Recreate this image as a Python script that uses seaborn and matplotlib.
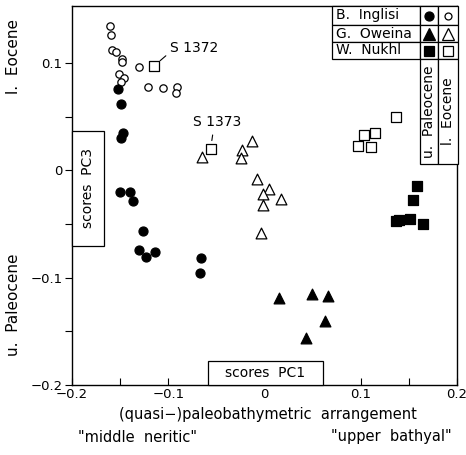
import numpy as np
import pandas as pd
import matplotlib
matplotlib.use("Agg")
import matplotlib.pyplot as plt
from matplotlib.patches import Rectangle
from matplotlib.lines import Line2D
import seaborn as sns

sns.set_theme(style="white")
plt.rcParams["font.family"] = ["DejaVu Sans"]
plt.rcParams["text.color"] = "black"

# PC1 / PC3 scores per sample
inglisi_eoc_x = [-0.161, -0.160, -0.158, -0.154, -0.148, -0.148, -0.151, -0.146, -0.149,
                 -0.130, -0.121, -0.105, -0.091, -0.092]
inglisi_eoc_y = [0.134, 0.126, 0.112, 0.110, 0.104, 0.101, 0.090, 0.086, 0.082,
                 0.096, 0.078, 0.077, 0.078, 0.072]
inglisi_pal_x = [-0.152, -0.149, -0.147, -0.149, -0.150, -0.140, -0.137, -0.126, -0.130,
                 -0.123, -0.114, -0.066, -0.067]
inglisi_pal_y = [0.076, 0.062, 0.035, 0.030, -0.020, -0.020, -0.029, -0.057, -0.074,
                 -0.081, -0.076, -0.082, -0.096]
oweina_eoc_x = [-0.065, -0.013, -0.023, -0.024, -0.008, 0.0045, 0.017, -0.002, -0.002, -0.004]
oweina_eoc_y = [0.012, 0.027, 0.019, 0.011, -0.008, -0.017, -0.027, -0.022, -0.032, -0.058]
oweina_pal_x = [0.015, 0.049, 0.066, 0.063, 0.043]
oweina_pal_y = [-0.119, -0.115, -0.117, -0.140, -0.156]
nukhl_eoc_x = [-0.115, -0.056, 0.137, 0.115, 0.103, 0.097, 0.111]
nukhl_eoc_y = [0.097, 0.020, 0.050, 0.035, 0.033, 0.023, 0.022]
nukhl_pal_x = [0.158, 0.154, 0.140, 0.151, 0.165, 0.137]
nukhl_pal_y = [-0.015, -0.028, -0.046, -0.045, -0.050, -0.047]

sites = ["B. Inglisi", "G. Oweina", "W. Nukhl"]
ages = ["u. Paleocene", "l. Eocene"]
labelled = {"S 1372": (-0.115, 0.097), "S 1373": (-0.056, 0.020)}

frames = []
for site, (px, py, ex, ey) in zip(sites, [
        (inglisi_pal_x, inglisi_pal_y, inglisi_eoc_x, inglisi_eoc_y),
        (oweina_pal_x, oweina_pal_y, oweina_eoc_x, oweina_eoc_y),
        (nukhl_pal_x, nukhl_pal_y, nukhl_eoc_x, nukhl_eoc_y)]):
    frames.append(pd.DataFrame({"PC1": px, "PC3": py, "site": site, "age": ages[0]}))
    frames.append(pd.DataFrame({"PC1": ex, "PC3": ey, "site": site, "age": ages[1]}))
df = pd.concat(frames, ignore_index=True)

W, H = 466, 455
fig = plt.figure(figsize=(W / 100, H / 100), dpi=100)
ax = fig.add_axes([72 / W, 1 - 385 / H, (457 - 72) / W, (385 - 6) / H])

markers = {"B. Inglisi": "o", "G. Oweina": "^", "W. Nukhl": "s"}
sizes = {("B. Inglisi", ages[0]): 42, ("B. Inglisi", ages[1]): 28,
         ("G. Oweina", ages[0]): 60, ("G. Oweina", ages[1]): 60,
         ("W. Nukhl", ages[0]): 46, ("W. Nukhl", ages[1]): 44}

for (site, age), sub in df.groupby(["site", "age"]):
    filled = age == ages[0]
    sns.scatterplot(data=sub, x="PC1", y="PC3", ax=ax, marker=markers[site],
                    s=sizes[(site, age)], color="black" if filled else "white",
                    edgecolor="black", linewidth=0.9, legend=False, zorder=3)

ax.set_xlim(-0.2, 0.2)
ax.set_ylim(-0.2, 0.153)
ax.set_xticks([-0.2, -0.1, 0, 0.1, 0.2])
ax.set_xticklabels(["\u22120.2", "\u22120.1", "0", "0.1", "0.2"])
ax.set_yticks([-0.2, -0.1, 0, 0.1])
ax.set_yticklabels(["\u22120.2", "\u22120.1", "0", "0.1"])
ax.set_xticks([-0.15, -0.05, 0.05, 0.15], minor=True)
ax.set_yticks([-0.15, -0.05, 0.05], minor=True)
ax.tick_params(axis="x", which="both", direction="in", length=5, width=0.8,
               bottom=True, labelsize=9.5, pad=2, colors="black")
ax.tick_params(axis="y", which="both", direction="out", length=5, width=0.8,
               left=True, labelsize=9.5, pad=2, colors="black")
ax.set_xlabel("")
ax.set_ylabel("")
for sp in ax.spines.values():
    sp.set_color("black")
    sp.set_linewidth(1.0)

# sample annotations
ax.annotate("S 1372", xy=labelled["S 1372"], xytext=(-0.098, 0.114),
            ha="left", va="center", fontsize=10,
            arrowprops=dict(arrowstyle="-", lw=0.8, color="black",
                            shrinkA=1, shrinkB=6, relpos=(0, 0.2)))
ax.annotate("S 1373", xy=labelled["S 1373"], xytext=(-0.074, 0.045),
            ha="left", va="center", fontsize=10,
            arrowprops=dict(arrowstyle="-", lw=0.8, color="black",
                            shrinkA=2, shrinkB=6, relpos=(0.42, 0)))


def fx(px):
    return px / W


def fy(py):
    return 1 - py / H


def box(x0, y0, x1, y1):
    fig.add_artist(Rectangle((fx(x0), fy(y1)), fx(x1) - fx(x0), fy(y0) - fy(y1),
                             transform=fig.transFigure, facecolor="white",
                             edgecolor="black", linewidth=0.9, zorder=5))


# axis caption boxes
box(72, 131, 104, 246)
fig.text(fx(88), fy(188), "scores  PC3", rotation=90, ha="center", va="center",
         fontsize=10, zorder=6)
box(208, 361, 323, 385)
fig.text(fx(265), fy(373), "scores  PC1", ha="center", va="center",
         fontsize=10, zorder=6)

# legend table
rows = [6, 25, 42, 59]
cols = [332, 420, 438, 458]
for i, site in enumerate(sites):
    box(cols[0], rows[i], cols[1], rows[i + 1])
    box(cols[1], rows[i], cols[2], rows[i + 1])
    box(cols[2], rows[i], cols[3], rows[i + 1])
    yc = (rows[i] + rows[i + 1]) / 2
    fig.text(fx(336), fy(yc), site.replace(" ", "  "), ha="left", va="center",
             fontsize=10, zorder=6)
    ms = {"o": 6.5, "^": 8, "s": 7.5}[markers[site]]
    fig.add_artist(Line2D([fx(429)], [fy(yc)], marker=markers[site], ms=ms,
                          mfc="black", mec="black", mew=0.9,
                          transform=fig.transFigure, zorder=7))
    fig.add_artist(Line2D([fx(448)], [fy(yc)], marker=markers[site],
                          ms=ms - (1.5 if markers[site] == "o" else 0),
                          mfc="white", mec="black", mew=0.9,
                          transform=fig.transFigure, zorder=7))
box(cols[1], rows[3], cols[2], 164)
box(cols[2], rows[3], cols[3], 164)
fig.text(fx(429), fy(111.5), "u.  Paleocene", rotation=90, ha="center",
         va="center", fontsize=10, zorder=6)
fig.text(fx(448), fy(111.5), "l.  Eocene", rotation=90, ha="center",
         va="center", fontsize=10, zorder=6)

# stratigraphic direction of PC3
fig.text(fx(14), fy(57), "l.  Eocene", rotation=90, ha="center", va="center",
         fontsize=11)
fig.text(fx(14), fy(305), "u.  Paleocene", rotation=90, ha="center", va="center",
         fontsize=11)

# bathymetric direction of PC1
fig.text(fx(268), fy(415), "(quasi\u2212)paleobathymetric  arrangement",
         ha="center", va="center", fontsize=10.5)
fig.text(fx(137), fy(437), "\"middle  neritic\"", ha="center", va="center",
         fontsize=10.5)
fig.text(fx(391), fy(437), "\"upper  bathyal\"", ha="center", va="center",
         fontsize=10.5)

fig.savefig("out.png", dpi=100)
